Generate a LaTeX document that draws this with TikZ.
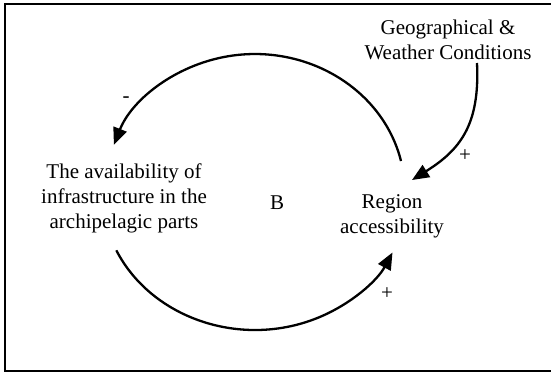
\documentclass[tikz,border=0pt]{standalone}
\usepackage{fontspec}
\setmainfont{Liberation Serif}
\usetikzlibrary{arrows.meta}
\begin{document}
\begin{tikzpicture}[x=1pt,y=-1pt,
  lbl/.style={font=\fontsize{21}{25}\selectfont, align=center, inner sep=0pt},
  sgn/.style={font=\fontsize{21}{25}\selectfont, inner sep=0pt},
  link/.style={line width=2.3pt, -{Triangle[length=17pt,width=14pt]}}]
  \useasboundingbox (0,0) rectangle (551,376);
  % outer frame (right side runs past the page edge)
  \draw[line width=2.6pt] (560,4) -- (5,4) -- (5,371) -- (560,371);

  % variables
  \node[lbl] (avail) at (124,198) {The availability of\\infrastructure in the\\archipelagic parts};
  \node[lbl] (region) at (392,216) {Region\\accessibility};
  \node[lbl] (geo) at (448,40) {Geographical \&\\Weather Conditions};
  \node[lbl] (loopB) at (277,203) {B};

  % polarity signs
  \node[sgn] (minus) at (126,100) {-};
  \node[sgn] (plusgeo) at (465,156) {+};
  \node[sgn] (plusbot) at (387,294) {+};

  % arc end points
  \coordinate (topstart) at (401,161);
  \coordinate (botstart) at (116.3,250.3);
  \coordinate (geostart) at (477,63);
  \coordinate (geotip) at (412,180);

  % feedback loop arcs
  \draw[link] (topstart) arc[start angle=13, end angle=160, x radius=150pt, y radius=138pt];
  \draw[link] (botstart) arc[start angle=205, end angle=334, x radius=153pt, y radius=138pt];

  % external influence
  \draw[link] (geostart) .. controls (480,125) and (460,150) .. (geotip);
\end{tikzpicture}
\end{document}
